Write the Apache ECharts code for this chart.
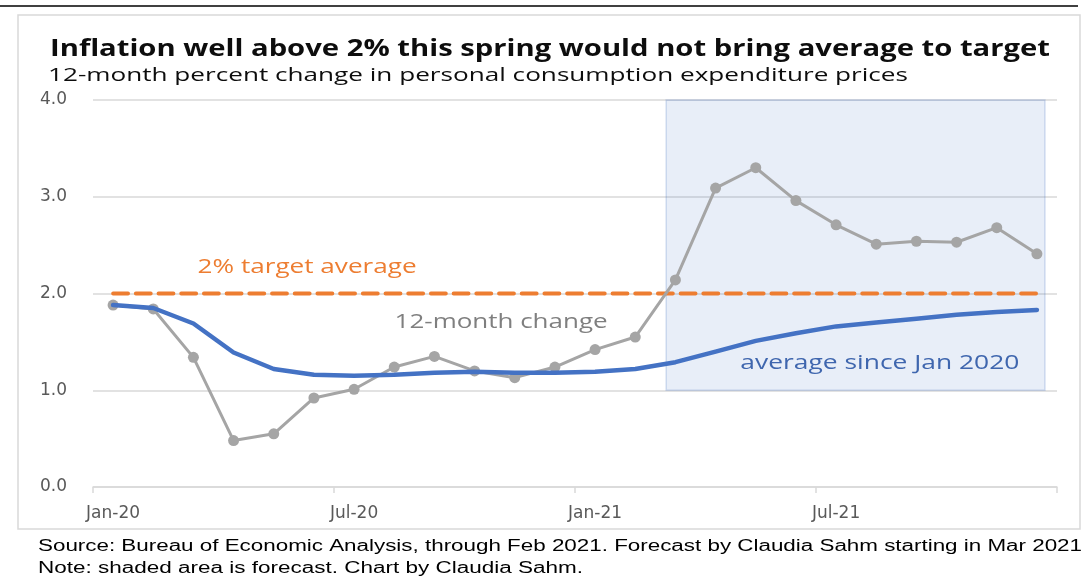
<!DOCTYPE html>
<html>
<head>
<meta charset="utf-8">
<script src="https://cdn.jsdelivr.net/npm/echarts@6/dist/echarts.min.js"></script>
<style>
html,body{margin:0;padding:0;background:#fff;}
#chart{width:1084px;height:576px;}
</style>
</head>
<body>
<div id="chart"></div>
<script>
// ---- data ----
const months = ['Jan-20','Feb-20','Mar-20','Apr-20','May-20','Jun-20','Jul-20','Aug-20','Sep-20','Oct-20','Nov-20','Dec-20',
                'Jan-21','Feb-21','Mar-21','Apr-21','May-21','Jun-21','Jul-21','Aug-21','Sep-21','Oct-21','Nov-21','Dec-21'];
const change12m = [1.88,1.84,1.34,0.48,0.55,0.92,1.01,1.24,1.35,1.20,1.13,1.24,
                   1.42,1.55,2.14,3.09,3.30,2.96,2.71,2.51,2.54,2.53,2.68,2.41];
const avgSinceJan20 = [1.88,1.85,1.69,1.39,1.22,1.16,1.15,1.16,1.18,1.19,1.18,1.18,
                       1.19,1.22,1.29,1.40,1.51,1.59,1.66,1.70,1.74,1.78,1.81,1.83];
const targetAvg = [2,2,2,2,2,2,2,2,2,2,2,2,2,2,2,2,2,2,2,2,2,2,2,2];
const yTicks = [0,1,2,3,4];
const forecastSpan = {x0: 13.77, x1: 23.2, y0: 1.0, y1: 4.0};

const titleText = 'Inflation well above 2% this spring would not bring average to target';
const subtitleText = '12-month percent change in personal consumption expenditure prices';
const footer1 = 'Source: Bureau of Economic Analysis, through Feb 2021. Forecast by Claudia Sahm starting in Mar 2021';
const footer2 = 'Note: shaded area is forecast. Chart by Claudia Sahm.';
const annotations = [
  {text:'2% target average', at:[4.83, 2.27], color:'#ED7D31', width:219},
  {text:'12-month change', at:[9.66, 1.70], color:'#7F7F7F', width:213},
  {text:'average since Jan 2020', at:[19.09, 1.28], color:'#3F66AE', width:279}
];

// ---- chart ----
const chart = echarts.init(document.getElementById('chart'), null, {renderer:'canvas'});
const axisFont = 'DejaVu Sans';

chart.setOption({
  animation:false,
  backgroundColor:'#fff',
  grid:{left:93, right:27, top:100, bottom:89, containLabel:false},
  xAxis:[{
    type:'category', data:months, boundaryGap:true,
    axisLine:{lineStyle:{color:'#D9D9D9', width:1.5}},
    axisTick:{show:true, interval:5, length:6, lineStyle:{color:'#D9D9D9', width:1.5}},
    axisLabel:{interval:5, color:'#595959', fontFamily:axisFont, fontSize:17, margin:18},
    splitLine:{show:false}
  },{
    type:'value', min:-0.5, max:23.5, show:false
  }],
  yAxis:{
    type:'value', min:yTicks[0], max:yTicks[yTicks.length-1], interval:1,
    axisLine:{show:false}, axisTick:{show:false},
    axisLabel:{color:'#595959', fontFamily:axisFont, fontSize:17, margin:26, formatter:v=>v.toFixed(1)},
    splitLine:{lineStyle:{color:'#D9D9D9', width:1.5}}
  },
  series:[
    {
      name:'2% target average', type:'line', data:targetAvg, symbol:'none', z:3,
      lineStyle:{color:'#ED7D31', width:3.8, type:[15,7.7], cap:'round'}
    },
    {
      name:'12-month change', type:'line', data:change12m, z:4,
      symbol:'circle', symbolSize:11,
      itemStyle:{color:'#A5A5A5'},
      lineStyle:{color:'#A5A5A5', width:3}
    },
    {
      name:'average since Jan 2020', type:'line', data:avgSinceJan20, symbol:'none', z:5,
      lineStyle:{color:'#4472C4', width:4.5, cap:'round', join:'round'}
    },
    {
      name:'forecast', type:'line', xAxisIndex:1, yAxisIndex:0, z:10,
      data:[[forecastSpan.x0, forecastSpan.y0]], symbol:'none', lineStyle:{opacity:0},
      silent:true,
      markArea:{
        silent:true,
        itemStyle:{color:'rgba(68,114,196,0.12)', borderColor:'rgba(68,114,196,0.22)', borderWidth:1.5},
        data:[[{coord:[forecastSpan.x0, forecastSpan.y1]},{coord:[forecastSpan.x1, forecastSpan.y0]}]]
      }
    }
  ]
});

function fitScale(text, font, targetW){
  const t = new echarts.graphic.Text({style:{text:text, font:font}});
  const w = t.getBoundingRect().width;
  return w > 0 ? targetW / w : 1;
}
function stretchedText(text, font, fill, x, y, targetW, align){
  return {
    type:'text', x:x, y:y, scaleX:fitScale(text, font, targetW), z:100,
    style:{text:text, font:font, fill:fill, align:align||'left', verticalAlign:'middle'}
  };
}

const fTitle = "bold 24px 'Open Sans'";
const fSub = "19px 'Open Sans'";
const fAnn = "20px 'Open Sans'";
const fFoot = "16px 'Liberation Sans'";

const graphics = [
  {type:'line', shape:{x1:0,y1:6,x2:1078,y2:6}, style:{stroke:'#000', lineWidth:1.5}, z:100},
  {type:'rect', shape:{x:18,y:15,width:1062,height:514}, style:{fill:null, stroke:'#D9D9D9', lineWidth:1.5}, z:100},
  stretchedText(titleText, fTitle, '#0D0D0D', 50, 49, 1000),
  stretchedText(subtitleText, fSub, '#0D0D0D', 48, 76, 860),
  stretchedText(footer1, fFoot, '#000', 38, 547, 1044),
  stretchedText(footer2, fFoot, '#000', 38, 569, 545)
];
annotations.forEach(a => {
  const p = chart.convertToPixel({xAxisIndex:1, yAxisIndex:0}, a.at);
  graphics.push(stretchedText(a.text, fAnn, a.color, p[0], p[1], a.width, 'center'));
});
chart.setOption({graphic:graphics});
</script>
</body>
</html>
